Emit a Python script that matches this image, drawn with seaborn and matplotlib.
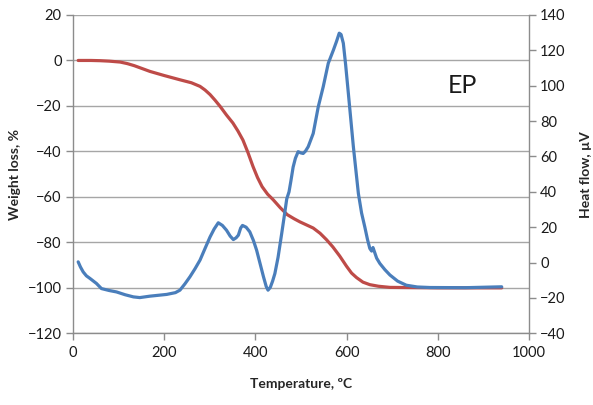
import numpy as np
import pandas as pd
import matplotlib
matplotlib.use("Agg")
import matplotlib.pyplot as plt
import seaborn as sns

# weight loss curve (left axis)
temp_wl = [12, 40, 60, 80, 104, 120, 135, 150, 169, 200, 235, 260, 279, 290,
           301, 312, 323, 337, 351, 362, 373, 384, 395, 405, 415, 427, 439,
           455, 470, 485, 498, 512, 527, 542, 556, 570, 585, 600, 611, 622,
           636, 651, 670, 695, 800, 940]
weight_loss = [0, 0, -0.1, -0.3, -0.7, -1.4, -2.3, -3.4, -4.8, -6.6, -8.5,
               -9.8, -11.4, -13, -15, -17.5, -20.2, -24, -27.5, -31, -35,
               -40.5, -46.6, -51.5, -55.5, -58.8, -61.2, -64.8, -67.8, -69.6,
               -71, -72.3, -73.7, -76, -78.8, -82, -86, -90.5, -93.5, -95.5,
               -97.5, -98.6, -99.3, -99.8, -100, -100]

# heat flow curve (right axis)
temp_hf = [12, 17, 23, 30, 38, 52, 63, 80, 96, 115, 133, 147, 169, 206, 225,
           235, 246, 257, 268, 279, 290, 301, 310, 319, 328, 337, 345, 352,
           358, 363, 368, 372, 380, 388, 396, 403, 411, 418, 424, 428, 433,
           438, 443, 450, 458, 464, 469, 474, 478, 483, 488, 494, 500, 505,
           510, 516, 527, 538, 549, 560, 571, 578, 584, 588, 593, 598, 604,
           615, 626, 633, 640, 646, 651, 655, 658, 662, 666, 673, 684, 695,
           712, 731, 755, 783, 860, 940]
heat_flow = [0.4, -2.5, -5.3, -7.5, -9, -11.8, -14.7, -15.8, -16.6, -18.2,
             -19.4, -19.8, -19, -18, -17, -15.6, -12, -8, -3.5, 1.4, 8, 14.5,
             19, 22.5, 21, 18.3, 15, 13, 14, 15.5, 19.5, 21, 20, 17.4, 12.5,
             7, -1, -8, -13.5, -15.6, -14, -10.5, -6.2, 3, 16.5, 27, 36, 40,
             46, 54, 59, 62.7, 62, 61.7, 63, 65.5, 73, 88, 99.5, 112.7, 120,
             125, 129.7, 129, 124, 112, 95.7, 65.5, 39, 28, 20.2, 13, 8, 6.5,
             8.5, 5.5, 2.5, -0.5, -4, -7, -10.5, -12.8, -13.8, -14.1, -14.2,
             -13.7]

sns.set_style("white")
plt.rcParams['font.family'] = ['Lato', 'DejaVu Sans']

red = "#BE4B48"
blue = "#4A7EBB"
grey = "#8C8C8C"

fig = plt.figure(figsize=(5.93, 4.05), dpi=100)
ax = fig.add_axes([0.1226, 0.177, 0.7696, 0.786])
ax2 = ax.twinx()

df_wl = pd.DataFrame({"T": temp_wl, "W": weight_loss})
df_hf = pd.DataFrame({"T": temp_hf, "H": heat_flow})

sns.lineplot(data=df_wl, x="T", y="W", ax=ax, color=red, linewidth=2.3, sort=False)
sns.lineplot(data=df_hf, x="T", y="H", ax=ax2, color=blue, linewidth=2.3, sort=False)

ax.set_xlim(0, 1000)
ax.set_ylim(-120, 20)
ax.set_yticks(np.arange(-120, 21, 20))
ax.set_xticks(np.arange(0, 1001, 200))
ax2.set_ylim(-40, 140)
ax2.set_yticks(np.arange(-40, 141, 20))

ax.yaxis.grid(True, color="#A6A6A6", linewidth=1.0)
ax.set_axisbelow(True)
ax2.grid(False)

for a in (ax, ax2):
    a.spines['top'].set_visible(False)
    for s in ('left', 'right', 'bottom'):
        a.spines[s].set_color(grey)
        a.spines[s].set_linewidth(1.0)
    a.tick_params(axis='both', which='both', direction='out', length=5,
                  color=grey, labelsize=10.5, labelcolor="#1a1a1a", width=1.0)
ax2.spines['left'].set_visible(False)
ax2.spines['bottom'].set_visible(False)
ax.spines['right'].set_visible(False)
ax.tick_params(axis='y', left=True, right=False, pad=3)
ax.tick_params(axis='x', bottom=True, pad=4)
ax2.tick_params(axis='y', right=True, pad=3)

ax.set_xlabel("Temperature, ºC", fontsize=10, fontweight='bold', labelpad=13)
ax.set_ylabel("Weight loss, %", fontsize=10, fontweight='bold', labelpad=5)
ax2.set_ylabel("Heat flow, µV", fontsize=10, fontweight='bold', labelpad=10, rotation=90)

ax.text(0.855, 0.78, "EP", transform=ax.transAxes, fontsize=18,
        ha='center', va='center', color="#1a1a1a")

plt.savefig("out.png", dpi=100)
plt.close()
